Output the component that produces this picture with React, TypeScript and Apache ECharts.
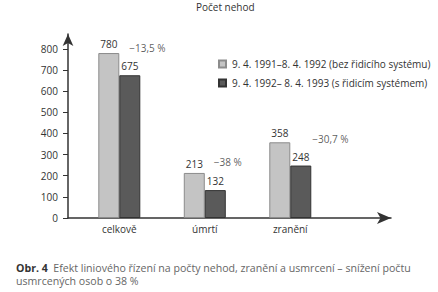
import React, { useEffect, useRef } from 'react';
import * as echarts from 'echarts';

const categories = ['celkově', 'úmrtí', 'zranění'];
const seriesNames = [
  '9. 4. 1991–8. 4. 1992 (bez řidicího systému)',
  '9. 4. 1992– 8. 4. 1993 (s řidicím systémem)',
];
const before = [780, 213, 358];
const after = [675, 132, 248];
const changes = ['−13,5 %', '−38 %', '−30,7 %'];
const yTicks = [0, 100, 200, 300, 400, 500, 600, 700, 800];
const chartTitle = 'Počet nehod';
const captionLead = 'Obr. 4';
const captionLines = [
  'Efekt liniového řízení na počty nehod, zranění a usmrcení – snížení počtu',
  'usmrcených osob o 38 %',
];

const FONT = '"Open Sans", "Noto Sans", sans-serif';

export default function App() {
  const ref = useRef<HTMLDivElement>(null);
  useEffect(() => {
    if (!ref.current) return;
    const chart = echarts.init(ref.current, undefined, { renderer: 'svg' });
    const catPos = categories.map((_, i) => i + 1);
    const changeOffsets = [
      [10, -27],
      [9, -28],
      [22, -27],
    ];
    chart.setOption({
      animation: false,
      textStyle: { fontFamily: FONT },
      title: {
        text: chartTitle,
        left: 196,
        top: 2,
        padding: 0,
        textStyle: { fontFamily: FONT, fontSize: 10, fontWeight: 'normal', color: '#333' },
      },
      legend: {
        data: seriesNames,
        orient: 'vertical',
        left: 218,
        top: 59,
        padding: 0,
        itemWidth: 7,
        itemHeight: 7,
        itemGap: 9,
        icon: 'rect',
        textStyle: { fontFamily: FONT, fontSize: 10, color: '#333', padding: [0, 0, 0, 1] },
      },
      grid: { left: 68, right: 47, top: 34, bottom: 74, containLabel: false },
      xAxis: {
        type: 'value',
        min: 0.4,
        max: 4.178,
        splitLine: { show: false },
        axisTick: { show: false },
        axisLine: {
          show: true,
          symbol: ['none', 'arrow'],
          symbolSize: [9, 14],
          lineStyle: { color: '#333', width: 1.5 },
        },
        axisLabel: {
          customValues: catPos,
          formatter: (v: number) => categories[Math.round(v) - 1] ?? '',
          margin: 6,
          fontSize: 10,
          color: '#333',
          fontFamily: FONT,
        },
      },
      yAxis: {
        type: 'value',
        min: 0,
        max: 870,
        splitLine: { show: false },
        axisLine: {
          show: true,
          symbol: ['none', 'arrow'],
          symbolSize: [8, 12],
          lineStyle: { color: '#333', width: 1.5 },
        },
        axisTick: {
          show: true,
          customValues: yTicks,
          length: 5,
          lineStyle: { color: '#333', width: 1 },
        },
        axisLabel: {
          customValues: yTicks,
          margin: 10,
          fontSize: 10,
          color: '#333',
          fontFamily: FONT,
        },
      },
      series: [
        {
          name: seriesNames[0],
          type: 'bar',
          barWidth: 21,
          barGap: '0%',
          data: before.map((v, i) => [catPos[i], v]),
          itemStyle: { color: '#c4c4c4', borderColor: '#8c8c8c', borderWidth: 1 },
          label: {
            show: true,
            position: 'top',
            distance: 4,
            fontSize: 10,
            color: '#333',
            fontFamily: FONT,
            formatter: (p: any) => String(p.value[1]),
          },
        },
        {
          name: seriesNames[1],
          type: 'bar',
          barWidth: 21,
          barGap: '0%',
          data: after.map((v, i) => [catPos[i], v]),
          itemStyle: { color: '#5a5a5a', borderColor: '#333', borderWidth: 1 },
          label: {
            show: true,
            position: 'top',
            distance: 4,
            fontSize: 10,
            color: '#333',
            fontFamily: FONT,
            formatter: (p: any) => String(p.value[1]),
          },
        },
        {
          type: 'scatter',
          symbolSize: 0,
          silent: true,
          data: after.map((v, i) => ({
            value: [catPos[i], v],
            label: { offset: changeOffsets[i] },
          })),
          label: {
            show: true,
            position: 'inside',
            align: 'left',
            verticalAlign: 'middle',
            fontSize: 10,
            color: '#333',
            fontFamily: FONT,
            formatter: (p: any) => changes[p.dataIndex],
          },
        },
      ],
      graphic: [
        {
          type: 'text',
          left: 16,
          top: 261,
          style: {
            text: '{b|' + captionLead + '}  ' + captionLines[0] + '\n' + captionLines[1],
            fill: '#666',
            fontFamily: FONT,
            fontSize: 10.6,
            lineHeight: 13,
            rich: {
              b: { fontWeight: 'bold', fill: '#333', fontFamily: FONT, fontSize: 10.6, lineHeight: 13 },
            },
          },
        },
      ],
    });
    return () => chart.dispose();
  }, []);
  return (
    <div
      ref={ref}
      style={{ position: 'fixed', left: 0, top: 0, width: 438, height: 292, background: '#fff' }}
    />
  );
}
